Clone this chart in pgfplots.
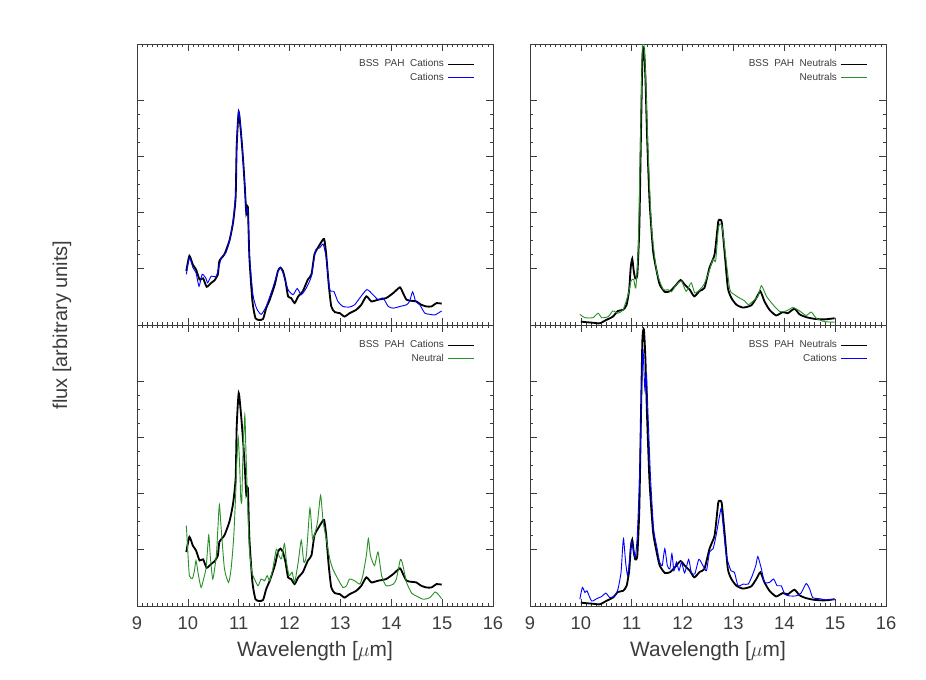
\documentclass[border=0pt]{standalone}
\usepackage{fontspec}
\setmainfont{Liberation Sans}
\usepackage{pgfplots}
\pgfplotsset{compat=1.18}
\usepackage{pgfplotstable}
\definecolor{labblue}{RGB}{0,0,255}
\definecolor{labgreen}{RGB}{40,145,40}
\definecolor{axgray}{RGB}{60,60,60}

% BSS PAH cations (black, left panels)
\pgfplotstableread{
x y
9.97 0.96
10.03 1.23
10.10 1.07
10.16 0.99
10.23 0.81
10.30 0.83
10.37 0.68
10.46 0.75
10.52 0.79
10.59 0.90
10.62 1.14
10.72 1.26
10.82 1.51
10.89 1.83
10.94 2.28
10.96 3.18
11.00 3.79
11.05 3.36
11.09 2.89
11.12 2.46
11.15 1.98
11.18 2.10
11.21 1.20
11.27 0.42
11.33 0.12
11.41 0.09
11.48 0.11
11.54 0.30
11.61 0.45
11.71 0.72
11.77 0.96
11.82 1.02
11.87 0.96
11.92 0.78
11.97 0.51
12.03 0.48
12.10 0.39
12.17 0.51
12.26 0.60
12.36 0.81
12.43 0.90
12.49 1.26
12.56 1.38
12.62 1.47
12.68 1.53
12.72 1.26
12.77 0.72
12.82 0.33
12.89 0.23
12.99 0.21
13.08 0.15
13.18 0.21
13.31 0.27
13.41 0.36
13.51 0.51
13.61 0.42
13.74 0.45
13.90 0.48
14.04 0.57
14.17 0.67
14.23 0.57
14.30 0.45
14.40 0.43
14.49 0.42
14.59 0.36
14.69 0.33
14.79 0.33
14.89 0.39
14.99 0.38
}\bsscat

% Lab cations (blue, top left)
\pgfplotstableread{
x y
9.97 0.90
10.03 1.20
10.10 1.02
10.16 0.93
10.22 0.69
10.28 0.90
10.35 0.84
10.39 0.75
10.46 0.87
10.56 0.87
10.66 1.20
10.75 1.29
10.82 1.50
10.89 1.86
10.94 2.34
10.96 3.18
11.00 3.81
11.05 3.39
11.09 2.88
11.12 2.46
11.15 2.01
11.18 2.04
11.21 1.26
11.28 0.54
11.35 0.30
11.44 0.19
11.54 0.33
11.67 0.66
11.80 1.02
11.87 0.93
11.97 0.63
12.07 0.54
12.15 0.65
12.23 0.54
12.33 0.66
12.43 0.87
12.51 1.33
12.59 1.37
12.66 1.44
12.72 1.20
12.79 0.63
12.87 0.60
12.95 0.42
13.05 0.33
13.18 0.32
13.28 0.36
13.38 0.48
13.52 0.63
13.64 0.54
13.74 0.45
13.84 0.48
13.94 0.33
14.04 0.30
14.17 0.33
14.30 0.36
14.36 0.42
14.42 0.59
14.48 0.42
14.56 0.36
14.66 0.21
14.76 0.19
14.86 0.18
14.99 0.25
}\labcat

% BSS PAH neutrals (black, right panels)
\pgfplotstableread{
x y
10.00 0.06
10.11 0.05
10.24 0.04
10.37 0.03
10.50 0.09
10.63 0.15
10.73 0.25
10.83 0.27
10.90 0.36
10.95 0.63
10.98 1.02
11.01 1.18
11.04 0.96
11.07 0.83
11.11 0.90
11.15 1.74
11.18 3.30
11.21 4.74
11.24 4.92
11.27 4.38
11.30 3.42
11.35 2.22
11.42 1.32
11.49 0.96
11.55 0.72
11.65 0.59
11.75 0.60
11.85 0.69
11.96 0.80
12.04 0.72
12.14 0.63
12.23 0.51
12.34 0.61
12.43 0.66
12.53 1.02
12.63 1.26
12.70 1.83
12.73 1.87
12.77 1.83
12.83 1.26
12.89 0.66
12.96 0.48
13.06 0.36
13.19 0.31
13.35 0.35
13.45 0.48
13.53 0.60
13.61 0.42
13.71 0.27
13.84 0.17
13.97 0.23
14.07 0.21
14.20 0.29
14.30 0.19
14.43 0.14
14.59 0.11
14.79 0.10
14.99 0.12
}\bssneu

% Lab neutrals (green, top right)
\pgfplotstableread{
x y
9.98 0.19
10.08 0.13
10.24 0.13
10.34 0.21
10.41 0.13
10.54 0.15
10.63 0.25
10.73 0.21
10.83 0.27
10.93 0.54
10.99 0.79
11.04 0.81
11.08 0.66
11.13 1.38
11.17 3.18
11.21 4.98
11.24 4.99
11.27 4.50
11.32 3.12
11.39 1.74
11.49 0.96
11.62 0.63
11.71 0.63
11.78 0.59
11.88 0.72
11.98 0.78
12.07 0.60
12.17 0.75
12.24 0.57
12.34 0.63
12.42 0.72
12.50 0.90
12.60 1.17
12.65 1.14
12.70 1.68
12.73 1.80
12.78 1.74
12.85 1.20
12.93 0.63
13.02 0.54
13.12 0.48
13.22 0.43
13.29 0.36
13.38 0.42
13.48 0.51
13.55 0.70
13.65 0.51
13.78 0.36
13.91 0.24
14.04 0.25
14.17 0.31
14.30 0.25
14.43 0.17
14.53 0.23
14.63 0.12
14.79 0.06
14.99 0.05
}\labneu

% Lab neutral (green, bottom left)
\pgfplotstableread{
x y
9.97 1.43
10.00 0.96
10.03 0.54
10.09 0.49
10.13 0.63
10.16 0.81
10.21 0.54
10.26 0.33
10.31 0.48
10.36 0.69
10.41 1.26
10.44 0.90
10.49 0.48
10.56 0.90
10.59 1.38
10.62 1.80
10.66 1.32
10.72 0.66
10.80 0.42
10.85 0.66
10.90 1.20
10.94 1.98
10.96 2.52
10.99 3.00
11.02 2.46
11.04 1.92
11.06 1.86
11.08 2.58
11.12 3.40
11.14 2.82
11.17 1.98
11.21 1.02
11.26 0.60
11.31 0.48
11.38 0.36
11.44 0.48
11.51 0.45
11.56 0.54
11.61 0.45
11.67 0.66
11.74 1.01
11.79 0.90
11.84 0.84
11.90 1.11
11.94 0.78
11.99 0.54
12.05 0.60
12.10 0.42
12.17 0.78
12.23 1.17
12.28 0.78
12.33 0.90
12.40 1.74
12.45 1.20
12.49 1.26
12.55 1.50
12.61 1.97
12.66 1.50
12.72 1.20
12.79 0.84
12.85 0.66
12.95 0.48
13.05 0.33
13.12 0.36
13.18 0.48
13.28 0.45
13.38 0.39
13.44 0.54
13.51 0.90
13.55 1.20
13.59 0.90
13.67 0.72
13.74 0.96
13.81 0.54
13.90 0.36
14.04 0.39
14.10 0.48
14.18 0.83
14.23 0.72
14.30 0.42
14.40 0.23
14.49 0.18
14.63 0.12
14.76 0.15
14.86 0.25
14.92 0.21
14.99 0.13
}\labneutral

% Lab cations (blue, bottom right)
\pgfplotstableread{
x y
9.98 0.12
10.03 0.33
10.08 0.24
10.12 0.27
10.21 0.09
10.31 0.13
10.41 0.17
10.49 0.23
10.57 0.15
10.67 0.18
10.73 0.30
10.79 0.60
10.82 1.02
10.84 1.20
10.88 0.78
10.92 0.54
10.96 0.84
10.99 1.14
11.03 1.02
11.07 0.87
11.11 1.26
11.16 2.46
11.19 3.66
11.22 4.56
11.24 4.20
11.26 3.84
11.29 4.14
11.32 3.42
11.37 2.28
11.43 1.38
11.50 1.02
11.55 0.78
11.60 0.72
11.65 1.02
11.70 0.72
11.75 0.66
11.79 0.93
11.83 0.63
11.88 0.78
11.93 0.63
11.98 0.78
12.04 0.59
12.12 0.83
12.17 0.60
12.24 0.57
12.32 0.83
12.40 0.72
12.47 0.63
12.53 0.96
12.60 1.02
12.66 1.26
12.73 1.62
12.76 1.74
12.79 1.50
12.86 0.90
12.95 0.63
13.02 0.60
13.09 0.36
13.19 0.39
13.29 0.39
13.37 0.54
13.44 0.72
13.48 0.88
13.55 0.66
13.61 0.42
13.71 0.42
13.79 0.48
13.86 0.36
13.94 0.36
14.01 0.21
14.10 0.18
14.23 0.18
14.33 0.23
14.43 0.40
14.50 0.30
14.56 0.15
14.69 0.13
14.82 0.11
14.99 0.12
}\labcation

\pgfplotsset{
  panel/.style={
    scale only axis,
    width=213.6pt,
    height=168.6pt,
    xmin=9, xmax=16,
    ymin=0, ymax=5,
    xtick={9,10,11,12,13,14,15,16},
    minor x tick num=9,
    ytick={1,2,3,4},
    minor y tick num=3,
    yticklabels={},
    tick align=inside,
    xtick pos=both,
    ytick pos=both,
    xticklabel pos=lower,
    major tick length=4pt,
    minor tick length=2pt,
    axis line style={axgray, line width=0.5pt},
    tick style={axgray, line width=0.4pt},
    tick label style={font=\fontsize{11}{12}\selectfont, text=axgray},
    xticklabel style={yshift=-3pt},
    /pgf/number format/assume math mode=true,
    label style={font=\fontsize{12.5}{14}\selectfont, text=axgray},
    no markers,
    legend style={
      at={(0.955,0.965)},
      anchor=north east,
      draw=none,
      fill=none,
      font=\fontsize{6}{7}\selectfont,
      text=axgray,
      row sep=-1.5pt,
      inner sep=1pt,
    },
    legend cell align=right,
    legend plot pos=right,
    legend image code/.code={\draw[##1, line width=0.6pt] (0pt,0pt) -- (16pt,0pt);},
  },
  bss/.style={black, line width=1.1pt, smooth, tension=0.35},
  lab/.style={line width=0.55pt, smooth, tension=0.35},
}

\begin{document}
\begin{tikzpicture}
\useasboundingbox (0,0) rectangle (555.6pt,407.4pt);

% top left
\begin{axis}[panel, at={(82.2pt,212.4pt)}, anchor=south west, xticklabels={}]
\addplot[bss] table {\bsscat};
\addlegendentry{BSS\ \ PAH\ \ Cations}
\addplot[lab, color=labblue] table {\labcat};
\addlegendentry{Cations}
\end{axis}

% top right
\begin{axis}[panel, at={(318pt,212.4pt)}, anchor=south west, xticklabels={}]
\addplot[bss] table {\bssneu};
\addlegendentry{BSS\ \ PAH\ \ Neutrals}
\addplot[lab, color=labgreen] table {\labneu};
\addlegendentry{Neutrals}
\end{axis}

% bottom left
\begin{axis}[panel, at={(82.2pt,43.8pt)}, anchor=south west,
  xlabel={Wavelength [$\mu$m]}]
\addplot[bss] table {\bsscat};
\addlegendentry{BSS\ \ PAH\ \ Cations}
\addplot[lab, color=labgreen] table {\labneutral};
\addlegendentry{Neutral}
\end{axis}

% bottom right
\begin{axis}[panel, at={(318pt,43.8pt)}, anchor=south west,
  xlabel={Wavelength [$\mu$m]}]
\addplot[bss] table {\bssneu};
\addlegendentry{BSS\ \ PAH\ \ Neutrals}
\addplot[lab, color=labblue] table {\labcation};
\addlegendentry{Cations}
\end{axis}

\node[rotate=90, font=\fontsize{12}{14}\selectfont, text=axgray]
  at (37.2pt,212.4pt) {flux [arbitrary units]};
\end{tikzpicture}
\end{document}
